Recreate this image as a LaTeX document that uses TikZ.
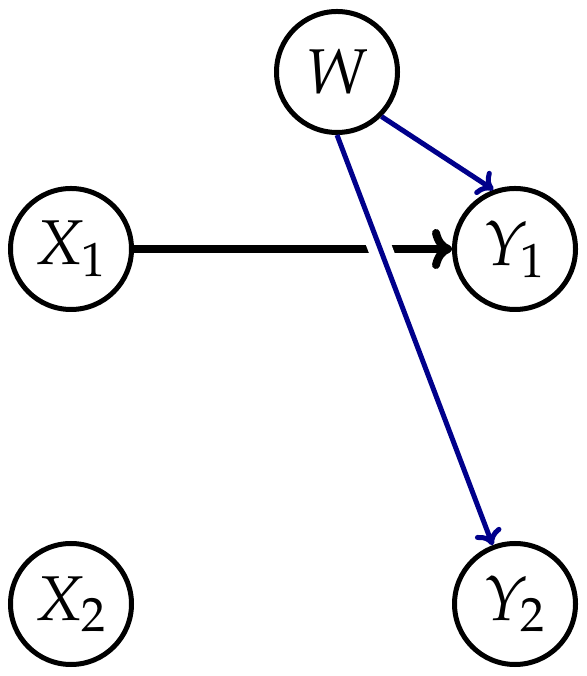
\documentclass[tikz,border=0pt]{standalone}
\usepackage{mathpazo}
\usepackage{tikz}
\usetikzlibrary{arrows.meta, positioning}
\usepackage{xcolor}
\definecolor{darkblue}{RGB}{0,0,139}

\tikzset{
	var/.style = {circle, draw, line width=0.05cm, minimum size=1.21cm, inner sep=0pt, font=\fontsize{18}{21}\selectfont},
	effect/.style = {line width=0.08cm, -{To[length=0.2cm, width=0.4cm, round]}},
	confound/.style = {darkblue, line width=0.05cm, -{To[length=0.15cm, width=0.28cm, round]}}
}

\begin{document}
\begin{tikzpicture}
		\useasboundingbox (0,0) rectangle (5.87,6.76);
		\draw (3.37,6.04) node[var] (w){$W$}
		(0.71,4.27) node[var] (x1) {$X_1$}
		(5.15,4.27) node[var] (y1) {$Y_1$}
		(0.71,0.72) node[var] (x2) {$X_2$}
		(5.15,0.72) node[var] (y2) {$Y_2$};
		
		\draw[effect] (x1) -- (y1);
		\draw[confound] (w.south east) -- (y1.110);
		\draw[confound, preaction={draw=white, line width=0.24cm, -, shorten <=0.9cm, shorten >=2.8cm}] (w.south) -- (y2);
	\end{tikzpicture}
\end{document}
